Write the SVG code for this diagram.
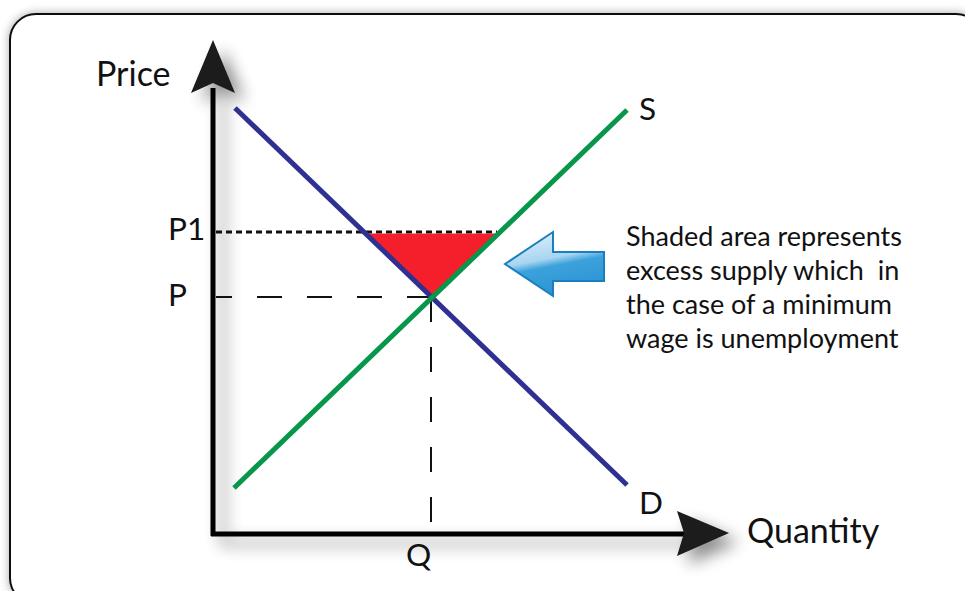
<svg xmlns="http://www.w3.org/2000/svg" width="965" height="591" viewBox="0 0 965 591">
<style>
.lbl{font-family:Lato,"Open Sans","Liberation Sans",sans-serif;fill:#111}
.ax{font-size:31.5px}
.big{font-size:34px}
.note{font-size:27px}
</style>
<defs>
<filter id="frameSh" x="-5%" y="-5%" width="110%" height="110%">
<feGaussianBlur in="SourceAlpha" stdDeviation="5"/>
<feComponentTransfer><feFuncA type="linear" slope="0.35"/></feComponentTransfer>
<feMerge><feMergeNode/><feMergeNode in="SourceGraphic"/></feMerge>
</filter>
<filter id="axSh" x="-20%" y="-20%" width="140%" height="140%">
<feGaussianBlur in="SourceAlpha" stdDeviation="8"/>
<feOffset dx="10" dy="9"/>
<feComponentTransfer><feFuncA type="linear" slope="0.45"/></feComponentTransfer>
<feMerge><feMergeNode/><feMergeNode in="SourceGraphic"/></feMerge>
</filter>
<linearGradient id="blueG" x1="0" y1="0" x2="0.3" y2="1">
<stop offset="0" stop-color="#EAF5FC"/>
<stop offset="0.5" stop-color="#A8D5F0"/>
<stop offset="0.62" stop-color="#3CA2DC"/>
<stop offset="1" stop-color="#2C95D3"/>
</linearGradient>
</defs>
<rect width="965" height="591" fill="#fff"/>
<g id="frame">
<rect x="10" y="14" width="972" height="590" rx="26" fill="#fff" stroke="#111" stroke-width="2" filter="url(#frameSh)"/>
</g>
<g id="axes" filter="url(#axSh)">
<path d="M213,536 V88" stroke="#000" stroke-width="5" fill="none"/>
<path d="M211,534 H685" stroke="#000" stroke-width="5" fill="none"/>
<path d="M213,40 L235,93 L213,83 L191,93 Z" fill="#1a1a1a"/>
<path d="M729,533 L677,556 L684,533 L677,511 Z" fill="#1a1a1a"/>
</g>
<g id="connectors" fill="none">
<path id="p1-line" d="M216,232 H497" stroke="#111" stroke-width="3" stroke-dasharray="6 4"/>
<path id="p-line" d="M216,297 H431" stroke="#111" stroke-width="2" stroke-dasharray="25 25" stroke-dashoffset="9"/>
<path id="q-line" d="M431,297 V522" stroke="#111" stroke-width="2" stroke-dasharray="25 25"/>
</g>
<g id="surplus">
<polygon points="366,233.5 497,233.5 431,297" fill="#F41F2B"/>
</g>
<g id="demand">
<path d="M235,108 L627,485" stroke="#2E3192" stroke-width="5" fill="none"/>
<text class="lbl ax" x="639" y="514">D</text>
</g>
<g id="supply">
<path d="M234,488 L627,110" stroke="#08964A" stroke-width="5" fill="none"/>
<text class="lbl ax" x="639" y="120">S</text>
</g>
<g id="labels">
<text class="lbl big" x="96" y="86">Price</text>
<text class="lbl big" x="747" y="543">Quantity</text>
<text class="lbl ax" x="168" y="240">P1</text>
<text class="lbl ax" x="168" y="306">P</text>
<text class="lbl ax" x="406" y="566">Q</text>
</g>
<g id="callout-arrow">
<path d="M505,264 L553,232 V252 H604 V281 H553 V296 Z" fill="url(#blueG)" stroke="#1A7FC0" stroke-width="2" stroke-linejoin="miter"/>
</g>
<g id="note">
<text class="lbl note" x="626" y="246">Shaded area represents</text>
<text class="lbl note" x="626" y="280" xml:space="preserve">excess supply which  in</text>
<text class="lbl note" x="626" y="314">the case of a minimum</text>
<text class="lbl note" x="626" y="348">wage is unemployment</text>
</g>
</svg>
